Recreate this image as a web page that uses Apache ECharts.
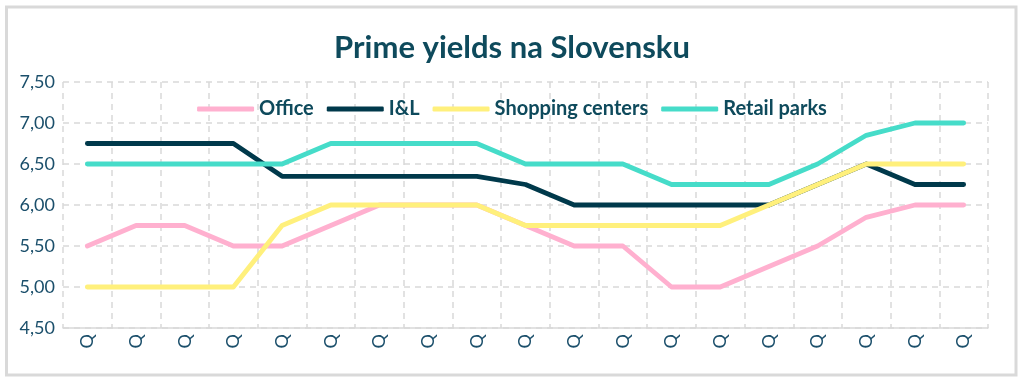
<!DOCTYPE html>
<html>
<head>
<meta charset="utf-8">
<script src="https://cdn.jsdelivr.net/npm/echarts@6/dist/echarts.min.js"></script>
<style>
html,body{margin:0;padding:0;background:#fff;}
#chart{width:1024px;height:381px;}
</style>
</head>
<body>
<div id="chart"></div>
<script>
// ---- data ----
const categories = ['Q','Q','Q','Q','Q','Q','Q','Q','Q','Q','Q','Q','Q','Q','Q','Q','Q','Q','Q'];
const seriesNames = ['Office', 'I&L', 'Shopping centers', 'Retail parks'];
const office   = [5.50,5.75,5.75,5.50,5.50,5.75,6.00,6.00,6.00,5.75,5.50,5.50,5.00,5.00,5.25,5.50,5.85,6.00,6.00];
const il       = [6.75,6.75,6.75,6.75,6.35,6.35,6.35,6.35,6.35,6.25,6.00,6.00,6.00,6.00,6.00,6.25,6.50,6.25,6.25];
const shopping = [5.00,5.00,5.00,5.00,5.75,6.00,6.00,6.00,6.00,5.75,5.75,5.75,5.75,5.75,6.00,6.25,6.50,6.50,6.50];
const retail   = [6.50,6.50,6.50,6.50,6.50,6.75,6.75,6.75,6.75,6.50,6.50,6.50,6.25,6.25,6.25,6.50,6.85,7.00,7.00];
const colors = ['#FFB0CF', '#00394B', '#FFF07C', '#46DCC9'];
const titleText = 'Prime yields na Slovensku';

const chart = echarts.init(document.getElementById('chart'), null, {renderer: 'canvas'});
const textColor = '#1B4F6B';
const font = 'Lato';
const seriesData = [office, il, shopping, retail];

const option = {
  animation: false,
  backgroundColor: '#ffffff',
  title: {
    text: titleText,
    left: 'center',
    top: 27,
    textStyle: {fontFamily: font, fontWeight: 'bold', fontSize: 31, color: '#0E4A5C'}
  },
  legend: {
    top: 94,
    left: 'center',
    icon: 'roundRect',
    itemWidth: 57,
    itemHeight: 5,
    itemGap: 13,
    textStyle: {fontFamily: font, fontWeight: 'bold', fontSize: 20, color: '#0E4A5C'},
    data: seriesNames
  },
  graphic: [{
    type: 'rect',
    shape: {x: 6.5, y: 7, width: 1009.5, height: 368},
    style: {fill: 'none', stroke: '#D9D9D9', lineWidth: 3},
    silent: true
  }],
  grid: {left: 63, right: 36, top: 82, bottom: 53, containLabel: false},
  xAxis: {
    type: 'category',
    data: categories,
    boundaryGap: true,
    axisLine: {show: true, lineStyle: {color: '#D9D9D9', width: 1.5}},
    axisTick: {show: false},
    axisLabel: {interval: 0, rotate: 90, color: textColor, fontFamily: font, fontSize: 18, margin: 6},
    splitLine: {show: true, interval: 0, lineStyle: {color: '#D9D9D9', type: [6, 5], width: 1.5}}
  },
  yAxis: {
    type: 'value',
    min: 4.5,
    max: 7.5,
    interval: 0.5,
    axisLine: {show: false},
    axisTick: {show: false},
    axisLabel: {
      color: textColor, fontFamily: font, fontSize: 18, margin: 8,
      formatter: v => v.toFixed(2).replace('.', ',')
    },
    splitLine: {show: true, lineStyle: {color: '#D9D9D9', type: [6, 5], width: 1.5}}
  },
  series: seriesNames.map((n, i) => ({
    name: n,
    type: 'line',
    data: seriesData[i],
    showSymbol: false,
    symbol: 'none',
    color: colors[i],
    lineStyle: {width: 4.8, color: colors[i], cap: 'round', join: 'round'}
  }))
};
chart.setOption(option);
</script>
</body>
</html>
